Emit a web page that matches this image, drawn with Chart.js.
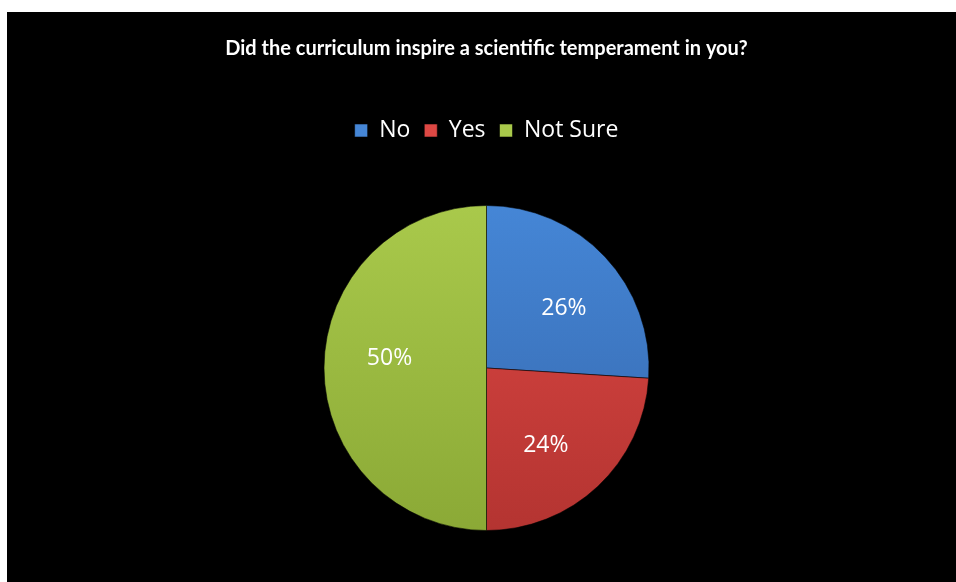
<!DOCTYPE html>
<html>
<head>
<meta charset="utf-8">
<script src="https://cdn.jsdelivr.net/npm/chart.js@4/dist/chart.umd.min.js"></script>
<style>
  html, body { margin: 0; padding: 0; background: #fff; }
  #wrap { position: absolute; left: 7px; top: 12px; width: 949px; height: 570px; background: #000; }
</style>
</head>
<body>
<div id="wrap"><canvas id="pie"></canvas></div>
<script>
const titleText = "Did the curriculum inspire a scientific temperament in you?";
const labels = ["No", "Yes", "Not Sure"];
const values = [26, 24, 50];
const topColors = ["#4586D6", "#DE4844", "#A9C94B"];
const bottomColors = ["#3567AC", "#B43431", "#8BA936"];

// vertical shading so the slices look a bit like the office 3D fill
function shade(ctx) {
  const i = ctx.dataIndex;
  const area = ctx.chart.chartArea;
  if (!area) return topColors[i];
  const g = ctx.chart.ctx.createLinearGradient(0, area.top, 0, area.bottom);
  g.addColorStop(0, topColors[i]);
  g.addColorStop(1, bottomColors[i]);
  return g;
}

// percentage text inside each slice
const sliceLabels = {
  id: "sliceLabels",
  afterDatasetsDraw(chart) {
    const c = chart.ctx;
    const total = values.reduce((a, b) => a + b, 0);
    chart.getDatasetMeta(0).data.forEach((arc, i) => {
      const p = arc.getProps(["x", "y", "startAngle", "endAngle", "outerRadius"], true);
      // excel nudges the labels a little clockwise
      const mid = (p.startAngle + p.endAngle) / 2 + 0.1;
      const r = p.outerRadius * 0.6;
      c.save();
      c.fillStyle = "#fff";
      c.font = "23px 'Open Sans'";
      c.textAlign = "center";
      c.textBaseline = "middle";
      c.fillText(Math.round(values[i] / total * 100) + "%", p.x + Math.cos(mid) * r, p.y + Math.sin(mid) * r);
      c.restore();
    });
  }
};

// extra room under the legend
const legendGap = {
  id: "legendGap",
  beforeInit(chart) {
    const fit = chart.legend.fit;
    chart.legend.fit = function () {
      fit.bind(chart.legend)();
      this.height += 53;
    };
  }
};

new Chart(document.getElementById("pie"), {
  type: "pie",
  data: {
    labels: labels,
    datasets: [{
      data: values,
      backgroundColor: shade,
      borderColor: "rgba(0,0,0,0.55)",
      borderWidth: 1
    }]
  },
  options: {
    responsive: true,
    maintainAspectRatio: false,
    animation: false,
    layout: { padding: { left: 10, right: 0, top: 0, bottom: 51 } },
    plugins: {
      title: {
        display: true,
        text: titleText,
        color: "#fff",
        font: { family: "Lato", size: 20, weight: "bold" },
        padding: { top: 25, bottom: 44 }
      },
      legend: {
        position: "top",
        labels: {
          color: "#fff",
          font: { family: "Open Sans", size: 23 },
          boxWidth: 13,
          boxHeight: 13,
          padding: 14
        }
      },
      tooltip: { enabled: false }
    }
  },
  plugins: [sliceLabels, legendGap]
});
</script>
</body>
</html>
